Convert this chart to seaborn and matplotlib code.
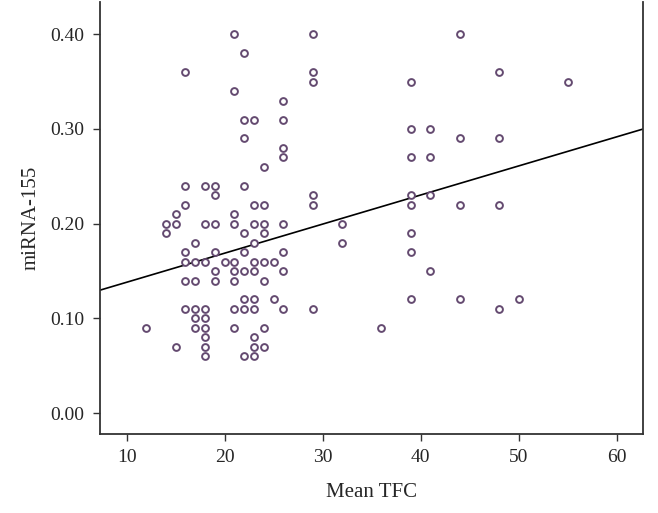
import numpy as np
import pandas as pd
import matplotlib
matplotlib.use("Agg")
import matplotlib.pyplot as plt
import seaborn as sns

# values, grouped by Mean TFC
tfc_12 = [0.09]
tfc_14 = [0.20, 0.19]
tfc_15 = [0.21, 0.20, 0.07]
tfc_16 = [0.36, 0.24, 0.22, 0.17, 0.16, 0.14, 0.11]
tfc_17 = [0.18, 0.16, 0.14, 0.11, 0.10, 0.09]
tfc_18 = [0.24, 0.20, 0.16, 0.11, 0.10, 0.09, 0.08, 0.07, 0.06]
tfc_19 = [0.24, 0.23, 0.20, 0.17, 0.15, 0.14]
tfc_20 = [0.16]
tfc_21 = [0.40, 0.34, 0.21, 0.20, 0.16, 0.15, 0.14, 0.11, 0.09]
tfc_22 = [0.38, 0.31, 0.29, 0.24, 0.19, 0.17, 0.15, 0.12, 0.11, 0.06]
tfc_23 = [0.31, 0.22, 0.20, 0.18, 0.16, 0.15, 0.12, 0.11, 0.08, 0.07, 0.06]
tfc_24 = [0.26, 0.22, 0.20, 0.19, 0.16, 0.14, 0.09, 0.07]
tfc_25 = [0.16, 0.12]
tfc_26 = [0.33, 0.31, 0.28, 0.27, 0.20, 0.17, 0.15, 0.11]
tfc_29 = [0.40, 0.36, 0.35, 0.23, 0.22, 0.11]
tfc_32 = [0.20, 0.18]
tfc_36 = [0.09]
tfc_39 = [0.35, 0.30, 0.27, 0.23, 0.22, 0.19, 0.17, 0.12]
tfc_41 = [0.30, 0.27, 0.23, 0.15]
tfc_44 = [0.40, 0.29, 0.22, 0.12]
tfc_48 = [0.36, 0.29, 0.22, 0.11]
tfc_50 = [0.12]
tfc_55 = [0.35]

# fit line as printed in the figure
fit_intercept = 0.1075
fit_slope = 0.00307

groups = {12: tfc_12, 14: tfc_14, 15: tfc_15, 16: tfc_16, 17: tfc_17, 18: tfc_18,
          19: tfc_19, 20: tfc_20, 21: tfc_21, 22: tfc_22, 23: tfc_23, 24: tfc_24,
          25: tfc_25, 26: tfc_26, 29: tfc_29, 32: tfc_32, 36: tfc_36, 39: tfc_39,
          41: tfc_41, 44: tfc_44, 48: tfc_48, 50: tfc_50, 55: tfc_55}

rows = [(k, v) for k, vals in groups.items() for v in vals]
df = pd.DataFrame(rows, columns=["Mean TFC", "miRNA-155"])

sns.set_style("ticks")
plt.rcParams["font.family"] = ["Liberation Serif", "DejaVu Serif"]

fig = plt.figure(figsize=(6.58, 5.13), dpi=100)
ax = fig.add_axes([0.152, 0.154, 0.8247, 0.842])

pt_color = "#644a70"
sns.scatterplot(data=df, x="Mean TFC", y="miRNA-155", ax=ax, s=24,
                facecolor="white", edgecolor=pt_color, linewidth=1.4, zorder=3)

# regression line across the whole axis
ax.axline((0, fit_intercept), slope=fit_slope, color="black", linewidth=1.2, zorder=2)

ax.set_xlim(7.28, 62.65)
ax.set_ylim(-0.022, 0.434)
ax.set_xticks([10, 20, 30, 40, 50, 60])
ax.set_yticks([0.0, 0.1, 0.2, 0.3, 0.4])
ax.set_yticklabels(["0.00", "0.10", "0.20", "0.30", "0.40"])
ax.tick_params(labelsize=14, length=5, width=1, color="#333333", pad=6)

for side in ["left", "bottom", "right"]:
    ax.spines[side].set_linewidth(1.3)
    ax.spines[side].set_color("#333333")
ax.spines["top"].set_visible(False)

ax.set_xlabel("Mean TFC", fontsize=15, labelpad=12)
ax.set_ylabel("miRNA-155", fontsize=15, labelpad=7)

fig.savefig("out.png", dpi=100)
